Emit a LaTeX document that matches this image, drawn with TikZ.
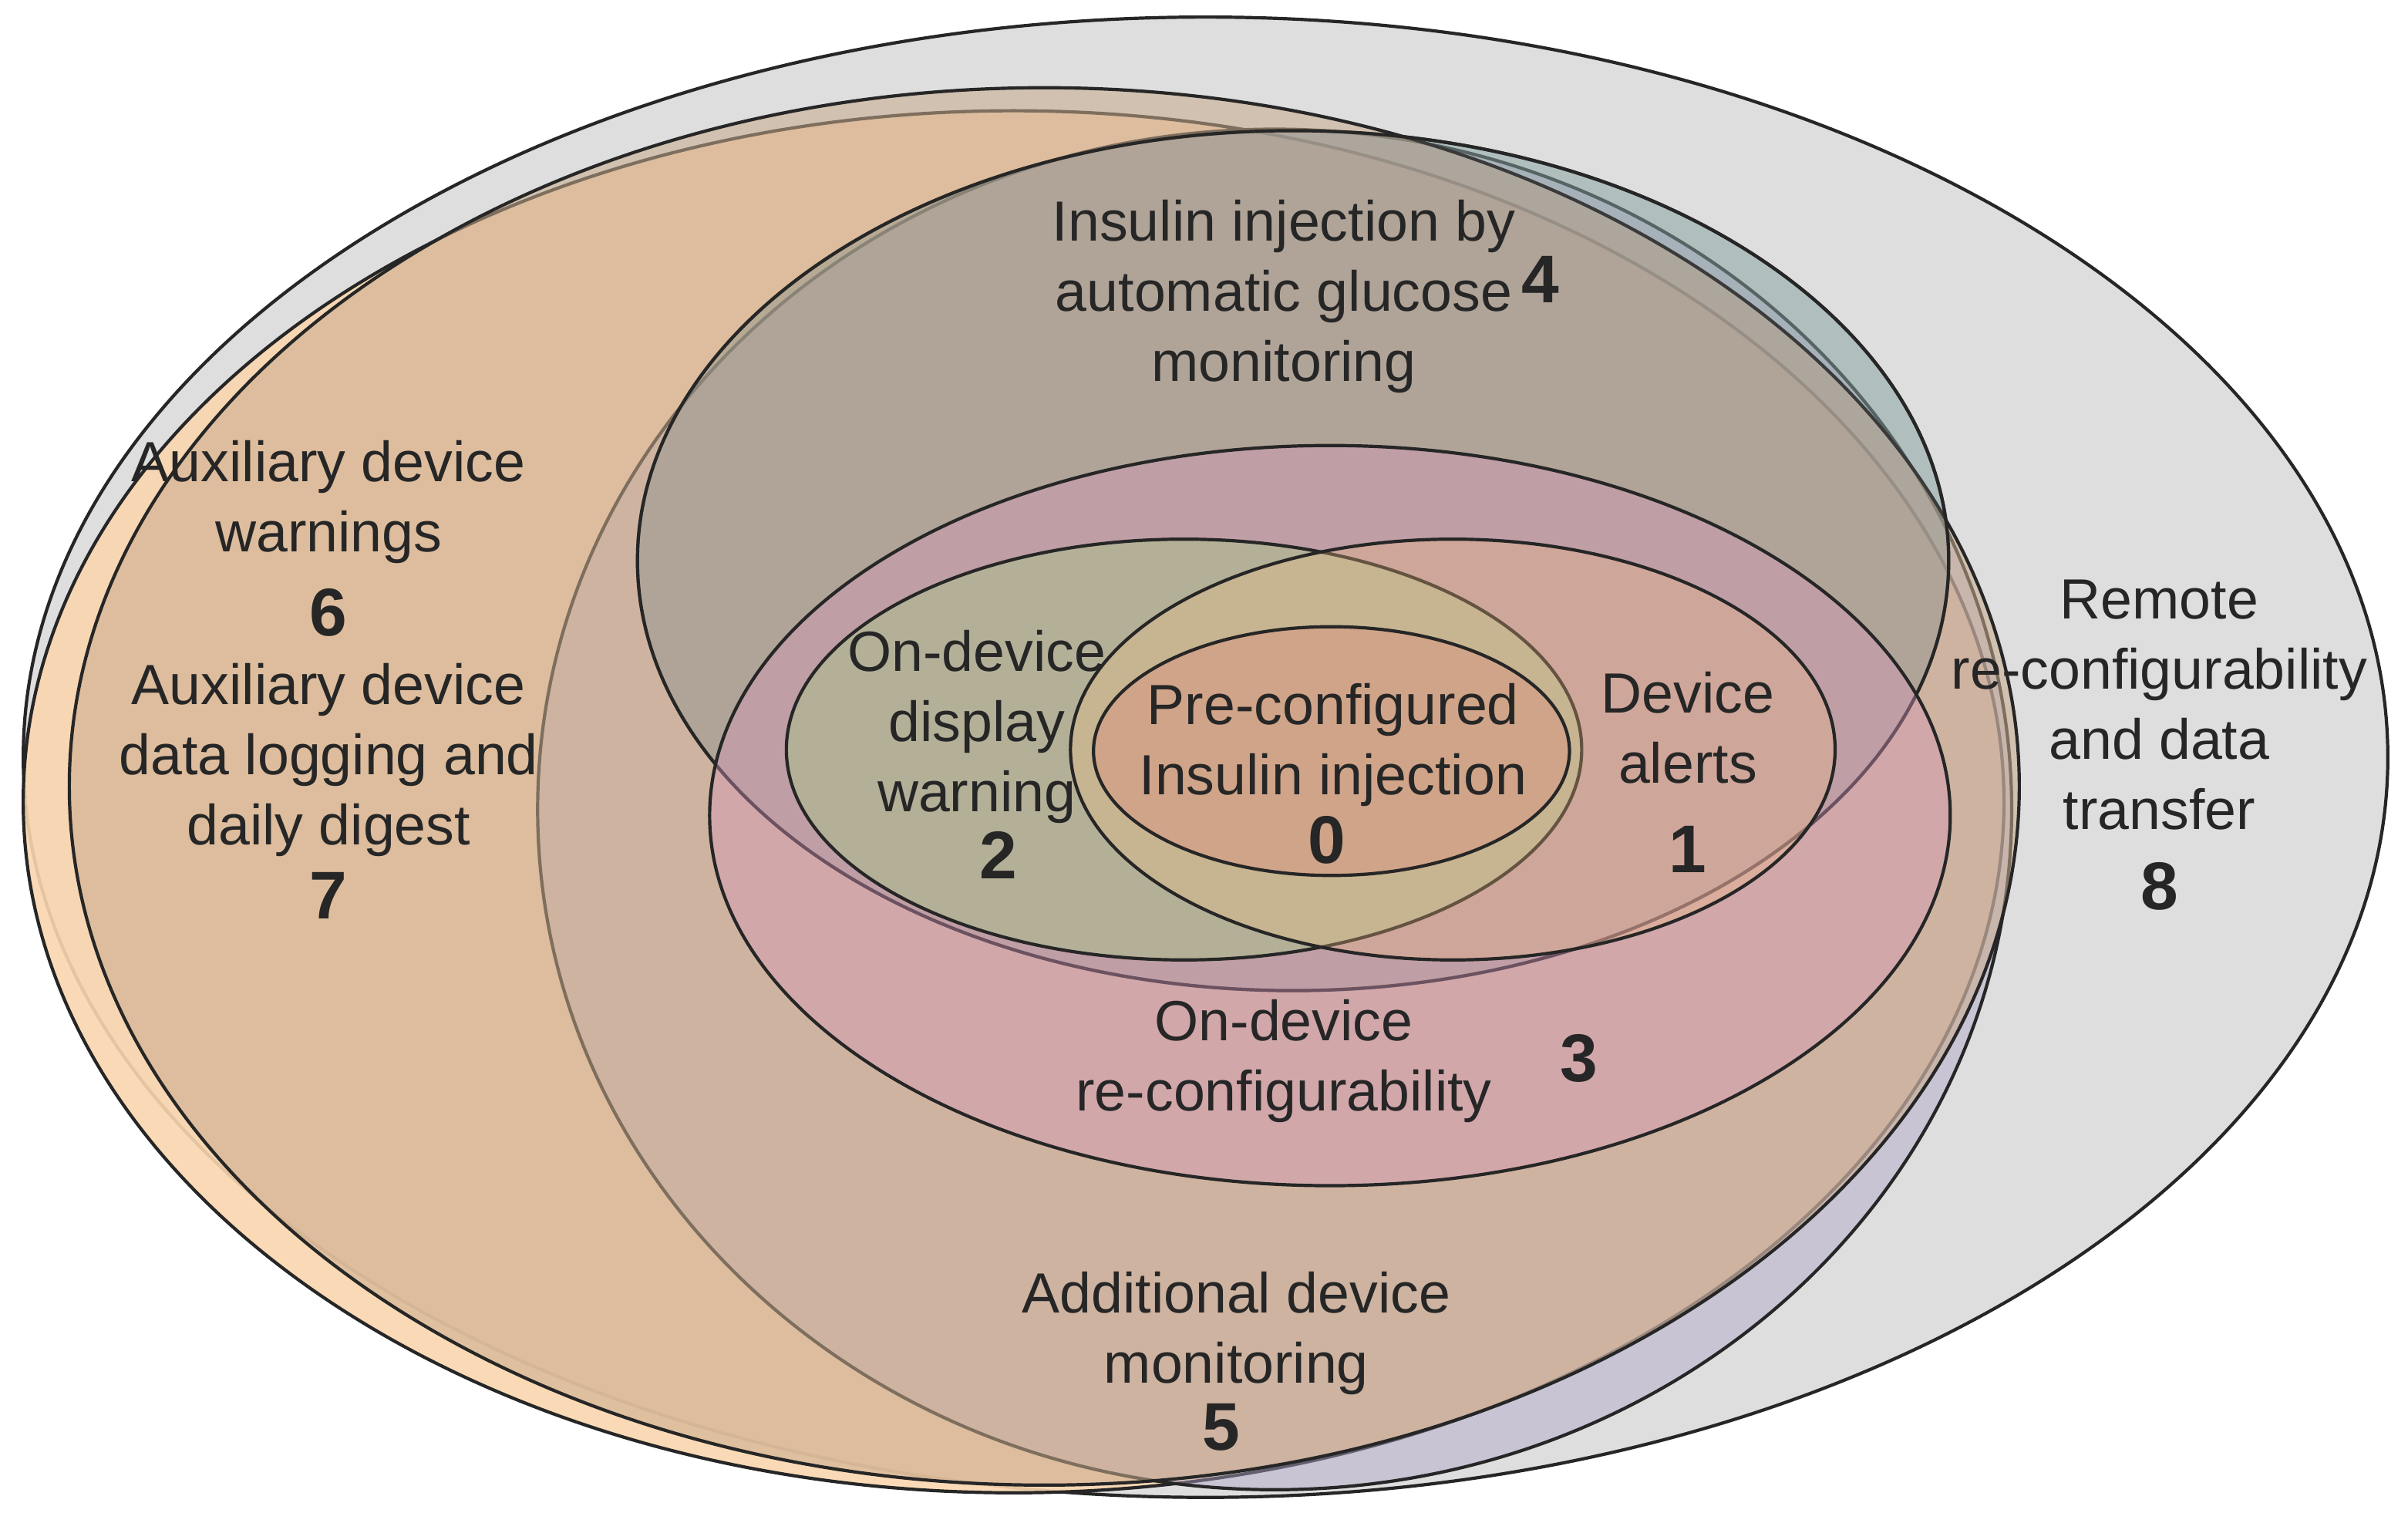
\documentclass[tikz,border=0pt]{standalone}
\usepackage{fontspec}
\setmainfont{Liberation Sans}
\begin{document}
\begin{tikzpicture}[x=0.02cm,y=-0.02cm,
  ell/.style={draw=black!85,line width=1.2pt,fill opacity=#1},
  lab/.style={align=center,font=\fontsize{21}{26}\selectfont,text=black!85},
  num/.style={font=\fontsize{25}{28}\selectfont\bfseries,text=black!85}]
\useasboundingbox (0,0) rectangle (1568,985);
\fill[white] (0,0) rectangle (1568,985);
% 8 grey
\draw[ell=1,fill={rgb,255:red,222;green,222;blue,222}] (785,493) ellipse [x radius=15.4cm, y radius=9.64cm];
% 6 light orange
\draw[ell=0.9,fill={rgb,255:red,250;green,214;blue,175}] (660,522) ellipse [x radius=12.9cm, y radius=9.0cm];
% 5 violet
\draw[ell=0.45,fill={rgb,255:red,175;green,165;blue,200}] (830,527) ellipse [x radius=9.6cm, y radius=8.86cm];
% 4 teal
\draw[ell=0.35,fill={rgb,255:red,150;green,200;blue,200}] (842,365) ellipse [x radius=8.54cm, y radius=5.6cm];
% 7 tan
\draw[ell=0.55,fill={rgb,255:red,200;green,170;blue,140}] (680,512) ellipse [x radius=12.7cm, y radius=9.1cm];
% 4 again outline darker
\draw[ell=0.25,fill={rgb,255:red,120;green,120;blue,120}] (842,365) ellipse [x radius=8.54cm, y radius=5.6cm];
% 3 pink
\draw[ell=0.4,fill={rgb,255:red,215;green,150;blue,185}] (866,531) ellipse [x radius=8.08cm, y radius=4.82cm];
% 2 green
\draw[ell=0.35,fill={rgb,255:red,160;green,210;blue,130}] (771,488) ellipse [x radius=5.18cm, y radius=2.74cm];
% 1 orange
\draw[ell=0.3,fill={rgb,255:red,245;green,190;blue,130}] (946,488) ellipse [x radius=4.98cm, y radius=2.74cm];
% 0 red
\draw[ell=0.3,fill={rgb,255:red,230;green,130;blue,120}] (867,489) ellipse [x radius=3.1cm, y radius=1.62cm];
% labels
\node[lab] (t4) at (836,193) {Insulin injection by\\automatic glucose\\monitoring};
\node[num] (n4) at (1003,182) {4};
\node[lab] (t6) at (214,327) {Auxiliary device\\warnings};
\node[num] (n6) at (214,399) {6};
\node[lab] (t7) at (214,495) {Auxiliary device\\data logging and\\daily digest};
\node[num] (n7) at (214,583) {7};
\node[lab] (t2) at (636,473) {On-device\\display\\warning};
\node[num] (n2) at (650,557) {2};
\node[lab] (t0) at (868,485) {Pre-configured\\Insulin injection};
\node[num] (n0) at (864,547) {0};
\node[lab] (t1) at (1099,474) {Device\\alerts};
\node[num] (n1) at (1099,553) {1};
\node[lab] (t3) at (836,691) {On-device\\re-configurability};
\node[num] (n3) at (1028,689) {3};
\node[lab] (t5) at (805,868) {Additional device\\monitoring};
\node[num] (n5) at (795,929) {5};
\node[lab] (t8) at (1406,459) {Remote\\re-configurability\\and data\\transfer};
\node[num] (n8) at (1406,577) {8};
\end{tikzpicture}
\end{document}
